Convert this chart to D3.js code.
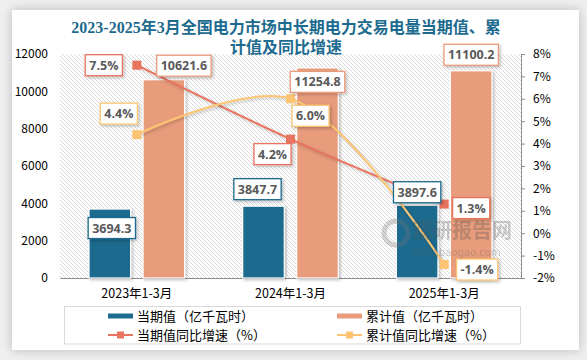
<!DOCTYPE html>
<html>
<head>
<meta charset="utf-8">
<script src="https://cdn.jsdelivr.net/npm/d3@7"></script>
<style>
  html, body { margin: 0; padding: 0; background: #efefef; }
  #card {
    position: absolute; left: 12px; top: 10px; width: 567px; height: 340px;
    background: #fff; box-shadow: 0 0 10px rgba(0,0,0,0.22);
  }
  svg { position: absolute; left: 0; top: 0; }
</style>
</head>
<body>
<div id="card"></div>
<div id="chart"></div>
<script>
// data
const categories = ["2023年1-3月", "2024年1-3月", "2025年1-3月"];
const currentValues = [3694.3, 3847.7, 3897.6];       // 当期值 (亿千瓦时)
const cumulativeValues = [10621.6, 11254.8, 11100.2];  // 累计值 (亿千瓦时)
const currentGrowth = [7.5, 4.2, 1.3];                 // 当期值同比增速 (%)
const cumulativeGrowth = [4.4, 6.0, -1.4];             // 累计值同比增速 (%)
const leftTicks = [0, 2000, 4000, 6000, 8000, 10000, 12000];
const rightTicks = [-2, -1, 0, 1, 2, 3, 4, 5, 6, 7, 8];

// label placement (offset of the label box centre from its point)
const curValOff = [[2, 19], [-6, -17], [0, -13]];
const cumValOff = [[20, -14], [0, 14], [0, -16]];
const curPctOff = [[-33, 0], [-18, 15], [27, 4]];
const cumPctOff = [[-18, -21], [20, 17], [33, 5]];

const W = 587, H = 360;
const C = {
    cur: "#1d6b8e",
    cum: "#e89c7b",
    curLine: "#e8735f",
    cumLine: "#fdc572",
    title: "#1d6b8e",
    label: "#595959"
};
const plot = { left: 60, right: 521, top: 54, bottom: 278 };

const svg = d3.select("#chart").append("svg")
    .attr("width", W).attr("height", H);

const defs = svg.append("defs");
const pat = defs.append("pattern")
    .attr("id", "hatch").attr("patternUnits", "userSpaceOnUse")
    .attr("width", 4).attr("height", 4);
pat.append("path").attr("d", "M-1,-1 L5,5 M-1,3 L1,5 M3,-1 L5,1")
    .attr("stroke", "#d6d6d6").attr("stroke-width", 0.9);

const sh = defs.append("filter").attr("id", "shadow")
    .attr("x", "-20%").attr("y", "-20%").attr("width", "150%").attr("height", "150%");
sh.append("feDropShadow").attr("dx", 1.5).attr("dy", 1.5).attr("stdDeviation", 1.5)
    .attr("flood-color", "#000").attr("flood-opacity", 0.25);

// title
const title = svg.append("text")
    .attr("x", 286).attr("text-anchor", "middle")
    .attr("font-family", "'Liberation Serif', 'Noto Sans CJK SC', serif")
    .attr("font-weight", "bold").attr("font-size", 16).attr("fill", C.title);
title.append("tspan").attr("x", 286).attr("y", 33)
    .text("2023-2025年3月全国电力市场中长期电力交易电量当期值、累");
title.append("tspan").attr("x", 286).attr("y", 53).text("计值及同比增速");

// scales
const x = d3.scaleBand().domain(categories).range([plot.left, plot.right]);
const xs = d3.scaleBand().domain(["cur", "cum"]).range([0, x.bandwidth()])
    .paddingInner(0.23).paddingOuter(0.537);
const yL = d3.scaleLinear().domain([0, 12000]).range([plot.bottom, plot.top]);
const yR = d3.scaleLinear().domain([-2, 8]).range([plot.bottom, plot.top]);
const cx = c => x(c) + x.bandwidth() / 2;

// plot background
svg.append("rect")
    .attr("x", plot.left).attr("y", plot.top)
    .attr("width", plot.right - plot.left).attr("height", plot.bottom - plot.top)
    .attr("fill", "url(#hatch)");

// axes
const axisFont = "'Noto Sans CJK SC', 'Open Sans', sans-serif";
const gl = svg.append("g").attr("transform", `translate(${plot.left - 12},0)`)
    .call(d3.axisLeft(yL).tickValues(leftTicks).tickSize(0).tickPadding(0)
        .tickFormat(d3.format("d")));
gl.select(".domain").remove();
gl.selectAll("text").attr("font-family", axisFont).attr("font-size", 12).attr("fill", "#000");

const gr = svg.append("g").attr("transform", `translate(${plot.right},0)`)
    .call(d3.axisRight(yR).tickValues(rightTicks).tickSize(4).tickSizeOuter(4).tickPadding(8)
        .tickFormat(d => d + "%"));
gr.select(".domain").attr("stroke", "#8c8c8c");
gr.selectAll(".tick line").attr("stroke", "#8c8c8c");
gr.selectAll("text").attr("font-family", axisFont).attr("font-size", 12).attr("fill", "#000");

const gb = svg.append("g").attr("transform", `translate(0,${plot.bottom})`)
    .call(d3.axisBottom(x).tickSize(0).tickPadding(11));
gb.select(".domain").attr("stroke", "#8c8c8c").attr("stroke-width", 1.2);
gb.selectAll("text").attr("font-family", axisFont).attr("font-size", 12.5).attr("fill", "#000");

// bars
const bars = svg.append("g");
bars.selectAll("rect.cur").data(currentValues).join("rect")
    .attr("class", "cur")
    .attr("x", (d, i) => x(categories[i]) + xs("cur"))
    .attr("y", d => yL(d))
    .attr("width", xs.bandwidth())
    .attr("height", d => yL(0) - yL(d))
    .attr("fill", C.cur).attr("stroke", "#fff").attr("stroke-width", 1.2)
    .attr("filter", "url(#shadow)");
bars.selectAll("rect.cum").data(cumulativeValues).join("rect")
    .attr("class", "cum")
    .attr("x", (d, i) => x(categories[i]) + xs("cum"))
    .attr("y", d => yL(d))
    .attr("width", xs.bandwidth())
    .attr("height", d => yL(0) - yL(d))
    .attr("fill", C.cum).attr("stroke", "#fff").attr("stroke-width", 1.2)
    .attr("filter", "url(#shadow)");

// lines
function drawLine(vals, color) {
    const pts = vals.map((v, i) => [cx(categories[i]), yR(v)]);
    const line = d3.line().curve(d3.curveCatmullRom.alpha(0.5));
    svg.append("path").attr("d", line(pts))
        .attr("fill", "none").attr("stroke", color).attr("stroke-width", 2)
        .attr("filter", "url(#shadow)");
    svg.append("g").selectAll("rect").data(pts).join("rect")
        .attr("x", d => d[0] - 4.5).attr("y", d => d[1] - 4.5)
        .attr("width", 9).attr("height", 9).attr("fill", color);
    return pts;
}
const curPts = drawLine(currentGrowth, C.curLine);
const cumPts = drawLine(cumulativeGrowth, C.cumLine);

// watermark (over the marks, under the labels)
const wm = svg.append("g").attr("opacity", 0.3);
wm.append("circle").attr("cx", 396).attr("cy", 233).attr("r", 12)
    .attr("fill", "none").attr("stroke", "#777").attr("stroke-width", 5);
wm.append("text").attr("x", 412).attr("y", 238)
    .attr("font-family", "'Noto Sans CJK SC', sans-serif").attr("font-weight", "bold")
    .attr("font-size", 20).attr("fill", "#555").text("观研报告网");
wm.append("text").attr("x", 412).attr("y", 256)
    .attr("font-family", "'DejaVu Sans', sans-serif")
    .attr("font-size", 10).attr("fill", "#666").text("chinabaogao.com");

// data labels
function addLabel(px, py, txt, border) {
    const g = svg.append("g").attr("transform", `translate(${px},${py})`);
    const r = g.append("rect").attr("fill", "#fff").attr("stroke", border)
        .attr("stroke-width", 1.3).attr("filter", "url(#shadow)");
    const t = g.append("text").attr("text-anchor", "middle").attr("dy", "0.36em")
        .attr("font-family", "'Open Sans', 'DejaVu Sans', sans-serif")
        .attr("font-weight", "bold").attr("font-size", 12.5)
        .attr("fill", C.label).text(txt);
    const bb = t.node().getBBox();
    const w = bb.width + 8, h = 21;
    r.attr("x", -w / 2).attr("y", -h / 2).attr("width", w).attr("height", h);
}

currentValues.forEach((v, i) => {
    addLabel(x(categories[i]) + xs("cur") + xs.bandwidth() / 2 + curValOff[i][0],
        yL(v) + curValOff[i][1], d3.format(".1f")(v), C.cur);
});
cumulativeValues.forEach((v, i) => {
    addLabel(x(categories[i]) + xs("cum") + xs.bandwidth() / 2 + cumValOff[i][0],
        yL(v) + cumValOff[i][1], d3.format(".1f")(v), C.cum);
});
currentGrowth.forEach((v, i) => {
    addLabel(curPts[i][0] + curPctOff[i][0], curPts[i][1] + curPctOff[i][1],
        d3.format(".1f")(v) + "%", C.curLine);
});
cumulativeGrowth.forEach((v, i) => {
    addLabel(cumPts[i][0] + cumPctOff[i][0], cumPts[i][1] + cumPctOff[i][1],
        d3.format(".1f")(v).replace("−", "-") + "%", C.cumLine);
});

// legend
const lg = svg.append("g");
lg.append("rect").attr("x", 64.5).attr("y", 306.5).attr("width", 456).attr("height", 37.5)
    .attr("fill", "#fff").attr("stroke", "#d9d9d9");
const legendItems = [
    { name: "当期值（亿千瓦时）", color: C.cur, type: "bar", x: 108, y: 316 },
    { name: "累计值（亿千瓦时）", color: C.cum, type: "bar", x: 337, y: 316 },
    { name: "当期值同比增速（%）", color: C.curLine, type: "line", x: 108, y: 335 },
    { name: "累计值同比增速（%）", color: C.cumLine, type: "line", x: 337, y: 335 }
];
legendItems.forEach(d => {
    if (d.type === "bar") {
        lg.append("rect").attr("x", d.x).attr("y", d.y - 2.5).attr("width", 25).attr("height", 5)
            .attr("fill", d.color);
    } else {
        lg.append("line").attr("x1", d.x).attr("x2", d.x + 25).attr("y1", d.y).attr("y2", d.y)
            .attr("stroke", d.color).attr("stroke-width", 2);
        lg.append("rect").attr("x", d.x + 9).attr("y", d.y - 3.5).attr("width", 7).attr("height", 7)
            .attr("fill", d.color);
    }
    lg.append("text").attr("x", d.x + 29).attr("y", d.y).attr("dy", "0.35em")
        .attr("font-family", axisFont).attr("font-size", 13).attr("fill", "#000")
        .text(d.name);
});
</script>
</body>
</html>
